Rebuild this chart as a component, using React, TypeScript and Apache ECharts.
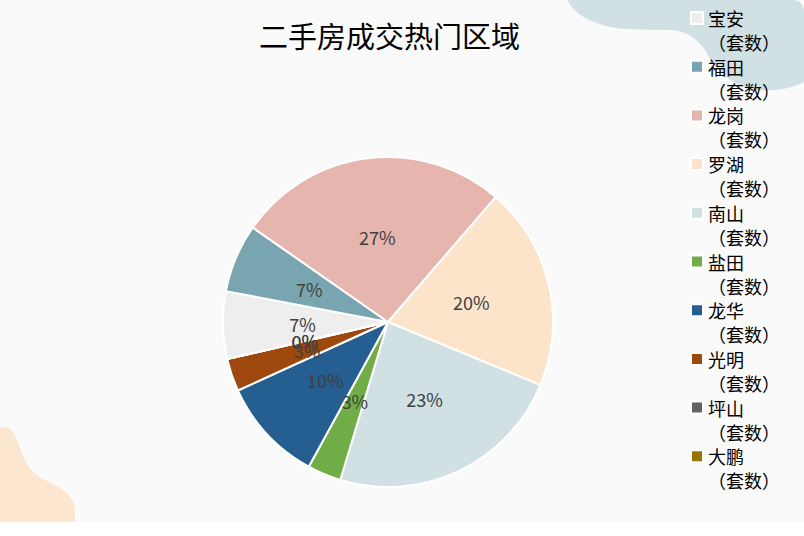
import React, { useEffect, useRef } from "react";
import * as echarts from "echarts";

const categories = ["宝安", "福田", "龙岗", "罗湖", "南山", "盐田", "龙华", "光明", "坪山", "大鹏"];
const values = [66, 67, 266, 199, 234, 33, 102, 32, 0, 0];
const unitSuffix = "（套数）";
const titleText = "二手房成交热门区域";
const palette = ["#eeeeee", "#79a5b0", "#e6b6ae", "#fce4cb", "#d1e0e3", "#70ad47", "#255e91", "#9e480e", "#636363", "#997300"];

const FONT = "'Noto Sans CJK SC', 'Noto Sans', sans-serif";

export default function App() {
  const ref = useRef<HTMLDivElement>(null);
  useEffect(() => {
    if (!ref.current) return;
    echarts.graphic.registerShape(
      "blobTR",
      echarts.graphic.extendPath(
        "M567,0 C575,15 590,22 610,27 C630,31 655,29 672,30 C690,32 697,40 705,50 C715,68 725,80 747,88 C765,93 790,90 804,82 L804,12 Q804,0 792,0 Z",
        {}
      )
    );
    echarts.graphic.registerShape(
      "blobBL",
      echarts.graphic.extendPath(
        "M0,428 C5,425 10,428 14,434 C20,443 22,458 28,466 C35,476 45,480 55,485 C68,492 75,500 75,512 L75,522 L0,522 Z",
        {}
      )
    );
    const chart = echarts.init(ref.current, undefined, { renderer: "svg" });
    chart.setOption({
      animation: false,
      backgroundColor: "#fafafa",
      color: palette,
      title: {
        text: titleText,
        left: 254,
        top: 15,
        textStyle: { fontSize: 29, fontWeight: "normal", color: "#000", fontFamily: FONT },
      },
      graphic: [
        { type: "blobTR", x: 0, y: 0, z: -10, silent: true, style: { fill: "#d1e0e3" } },
        { type: "blobBL", x: 0, y: 0, z: -10, silent: true, style: { fill: "#fde6cf" } },
      ],
      legend: {
        orient: "vertical",
        left: 690,
        top: -18,
        padding: 0,
        icon: "rect",
        itemWidth: 12,
        itemHeight: 12,
        itemGap: -23.3,
        data: categories,
        formatter: (name: string) => "\n" + name + "\n" + unitSuffix,
        textStyle: {
          fontSize: 18,
          lineHeight: 24,
          color: "#000",
          fontFamily: FONT,
        },
      },
      series: [
        {
          type: "pie",
          center: [388, 322],
          radius: 165,
          startAngle: 193,
          clockwise: true,
          percentPrecision: 0,
          minShowLabelAngle: -1,
          avoidLabelOverlap: false,
          labelLayout: { hideOverlap: false },
          itemStyle: { borderColor: "#fff", borderWidth: 2 },
          label: {
            show: true,
            position: "inside",
            formatter: "{d}%",
            color: "#404040",
            fontSize: 18,
            fontFamily: FONT,
          },
          labelLine: { show: false },
          emphasis: { disabled: true },
          data: categories.map((c, i) => ({ name: c, value: values[i] })),
        },
      ],
    });
    return () => chart.dispose();
  }, []);
  return (
    <>
      <style>{`#root text { text-spacing-trim: space-all; font-feature-settings: "chws" 0, "halt" 0, "palt" 0; }`}</style>
      <div
        ref={ref}
        style={{
          position: "absolute",
          left: 0,
          top: 0,
          width: 804,
          height: 522,
        }}
      />
    </>
  );
}
